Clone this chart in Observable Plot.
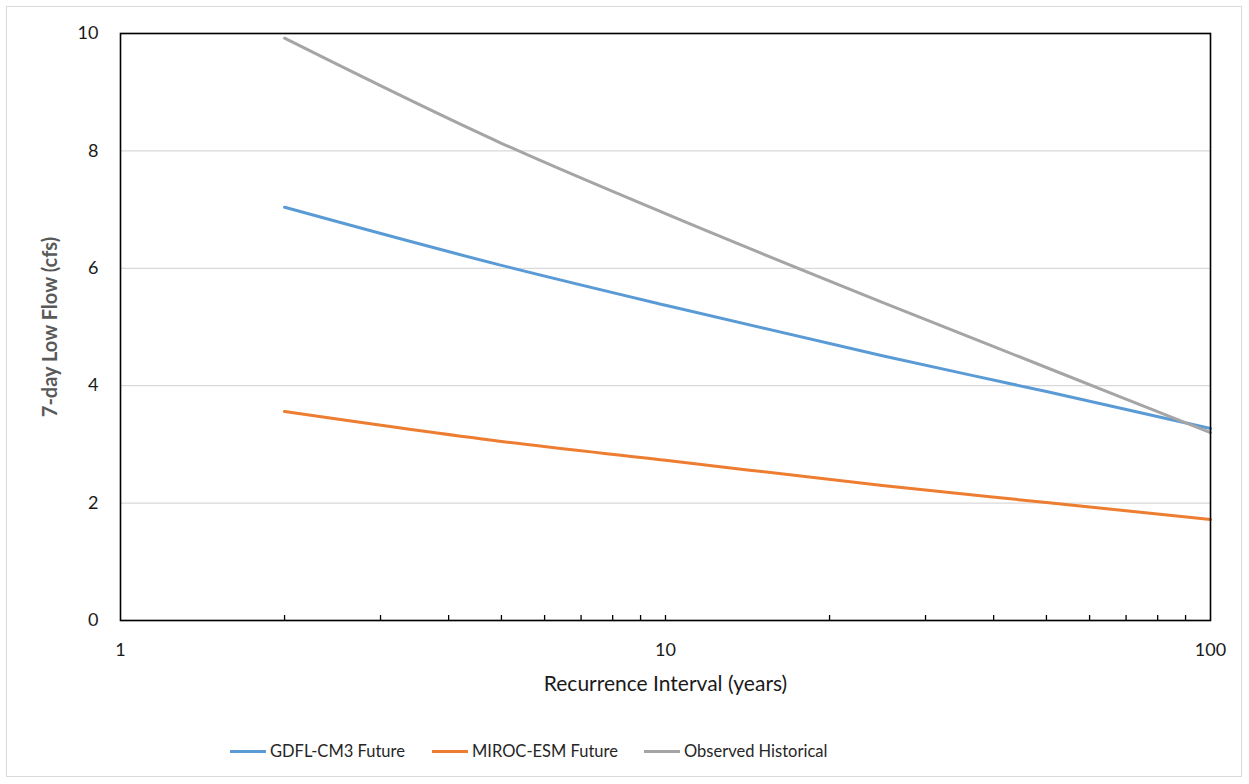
<!DOCTYPE html>
<html><head><meta charset="utf-8">
<script src="https://cdn.jsdelivr.net/npm/d3@7"></script>
<script src="https://cdn.jsdelivr.net/npm/@observablehq/plot@0.6"></script>
<style>
body{margin:0;background:#fff;font-family:Lato,"Open Sans",sans-serif;}
#wrap{position:relative;width:1249px;height:784px;overflow:hidden;}
#border{position:absolute;left:6px;top:6px;width:1236px;height:771px;border:1px solid #d9d9d9;box-sizing:border-box;}
#chart{position:absolute;left:0;top:0;}
.li{position:absolute;top:740px;font-size:16.5px;color:#262626;white-space:nowrap;line-height:22px;}
.sw{position:absolute;top:750px;height:3px;width:36px;}
</style>
</head><body>
<div id="wrap"><div id="border"></div><div id="chart"></div><div id="legend"></div></div>
<script>
const intervals = [2, 5, 10, 25, 50, 100];
const gdflFuture = [7.04, 6.05, 5.37, 4.51, 3.90, 3.27];
const mirocFuture = [3.56, 3.05, 2.73, 2.30, 2.01, 1.72];
const observedHistorical = [9.92, 8.13, 6.93, 5.42, 4.31, 3.20];
const seriesNames = ["GDFL-CM3 Future", "MIROC-ESM Future", "Observed Historical"];
const seriesColors = ["#5b9bd5", "#ed7d31", "#a5a5a5"];
const yTicks = [0, 2, 4, 6, 8, 10];
const xMajorTicks = [1, 10, 100];
const xMinorTicks = [2,3,4,5,6,7,8,9,10,20,30,40,50,60,70,80,90];
const xTitle = "Recurrence Interval (years)";
const yTitle = "7-day Low Flow (cfs)";

const seriesValues = [gdflFuture, mirocFuture, observedHistorical];
const rows = [];
seriesNames.forEach((name, i) => intervals.forEach((x, j) => rows.push({series: name, x, y: seriesValues[i][j]})));

const font = "Lato, 'Open Sans', sans-serif";
const chart = Plot.plot({
  width: 1249, height: 700,
  marginLeft: 120, marginRight: 39, marginTop: 33, marginBottom: 80,
  style: {fontFamily: font, fontSize: "18px", color: "#1a1a1a", background: "transparent"},
  x: {type: "log", domain: [1, 100]},
  y: {domain: [0, 10]},
  color: {domain: seriesNames, range: seriesColors},
  marks: [
    Plot.gridY(yTicks, {stroke: "#d9d9d9", strokeOpacity: 1, strokeWidth: 1.3}),
    Plot.axisY(yTicks, {tickSize: 0, tickPadding: 22, label: null, tickFormat: d => String(d), fontSize: 18}),
    Plot.axisX(xMajorTicks, {tickSize: 0, tickPadding: 23, label: null, tickFormat: d => String(d), fontSize: 18}),
    Plot.axisX(xMinorTicks, {tickSize: 5, dy: -5, tickFormat: () => "", label: null, stroke: "#000", strokeWidth: 1.3}),
    ...seriesNames.map((name, i) => Plot.line(rows.filter(r => r.series === name), {x: "x", y: "y", stroke: seriesColors[i], strokeWidth: 3, curve: "monotone-x"})),
    Plot.frame({stroke: "#000", strokeWidth: 1.6}),
    Plot.text([xTitle], {text: d => d, frameAnchor: "bottom", dy: 70, fontSize: 21, fill: "#1a1a1a"}),
    Plot.text([yTitle], {text: d => d, frameAnchor: "left", textAnchor: "middle", dx: -70, rotate: -90, fontSize: 20, fontWeight: "bold", fill: "#595959"})
  ]
});
document.getElementById("chart").appendChild(chart);

const legend = document.getElementById("legend");
const textLefts = [270, 472, 684];
seriesNames.forEach((name, i) => {
  const sw = document.createElement("div");
  sw.className = "sw";
  sw.style.left = (textLefts[i] - 40) + "px";
  sw.style.background = seriesColors[i];
  legend.appendChild(sw);
  const t = document.createElement("div");
  t.className = "li";
  t.style.left = textLefts[i] + "px";
  t.textContent = name;
  legend.appendChild(t);
});
</script>
</body></html>
